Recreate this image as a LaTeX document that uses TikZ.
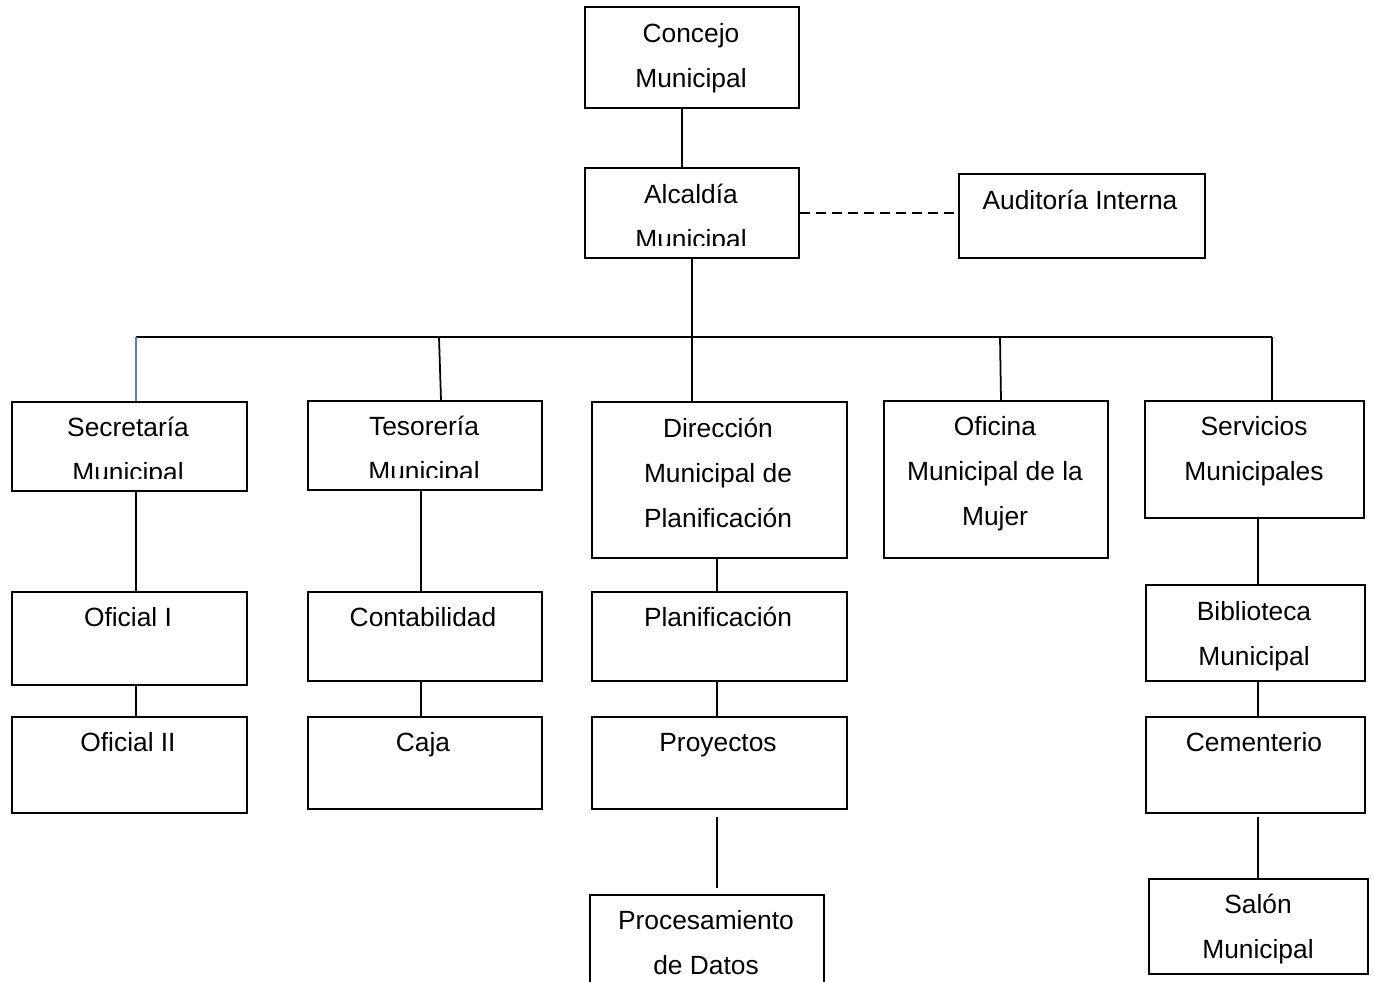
\documentclass[tikz,border=0pt]{standalone}
\usepackage{fontspec}
\setmainfont{Liberation Sans}
\usepackage{tikz}
\definecolor{wordblue}{RGB}{79,129,189}

\tikzset{
  box/.style={draw, line width=1pt, inner sep=0pt, anchor=north west},
  lbl/.style={font=\fontsize{15}{25.6}\selectfont, text width=5cm, align=flush center, inner sep=0pt, anchor=base},
  link/.style={line width=1pt}
}

\begin{document}
\begin{tikzpicture}[x=0.02cm, y=-0.02cm]
    \useasboundingbox (0,0) rectangle (1374,982);

    % top
    \node[box, minimum width=4.28cm, minimum height=2.02cm] (concejo) at (584,6) {};
    \node[lbl] (concejo-t) at (691,43) {Concejo\\Municipal};
    \node[box, minimum width=4.28cm, minimum height=1.8cm] (alcaldia) at (584,167) {};
    \begin{scope}
        \clip (584,167) rectangle (798,246);
        \node[lbl] (alcaldia-t) at (691,204) {Alcaldía\\Municipal};
    \end{scope}
    \node[box, minimum width=4.92cm, minimum height=1.68cm] (auditoria) at (958,173) {};
    \node[lbl] (auditoria-t) at (1080,210) {Auditoría Interna};

    % second row
    \node[box, minimum width=4.7cm, minimum height=1.78cm] (secretaria) at (11,401) {};
    \begin{scope}
        \clip (11,401) rectangle (246,479);
        \node[lbl] (secretaria-t) at (128,437) {Secretaría\\Municipal};
    \end{scope}
    \node[box, minimum width=4.68cm, minimum height=1.78cm] (tesoreria) at (307,400) {};
    \begin{scope}
        \clip (307,400) rectangle (541,478);
        \node[lbl] (tesoreria-t) at (424,436) {Tesorería\\Municipal};
    \end{scope}
    \node[box, minimum width=5.1cm, minimum height=3.12cm] (direccion) at (591,401) {};
    \node[lbl] (direccion-t) at (718,438) {Dirección\\Municipal de\\Planificación};
    \node[box, minimum width=4.48cm, minimum height=3.14cm] (mujer) at (883,400) {};
    \node[lbl] (mujer-t) at (995,436) {Oficina\\Municipal de la\\Mujer};
    \node[box, minimum width=4.38cm, minimum height=2.34cm] (servicios) at (1144,400) {};
    \node[lbl] (servicios-t) at (1254,436) {Servicios\\Municipales};

    % lower rows
    \node[box, minimum width=4.7cm, minimum height=1.86cm] (oficial1) at (11,591) {};
    \node[lbl] (oficial1-t) at (128,627) {Oficial I};
    \node[box, minimum width=4.7cm, minimum height=1.92cm] (oficial2) at (11,716) {};
    \node[lbl] (oficial2-t) at (128,752) {Oficial II};
    \node[box, minimum width=4.68cm, minimum height=1.78cm] (contab) at (307,591) {};
    \node[lbl] (contab-t) at (423,627) {Contabilidad};
    \node[box, minimum width=4.68cm, minimum height=1.84cm] (caja) at (307,716) {};
    \node[lbl] (caja-t) at (423,752) {Caja};
    \node[box, minimum width=5.1cm, minimum height=1.78cm] (planif) at (591,591) {};
    \node[lbl] (planif-t) at (718,627) {Planificación};
    \node[box, minimum width=5.1cm, minimum height=1.84cm] (proyectos) at (591,716) {};
    \node[lbl] (proyectos-t) at (718,752) {Proyectos};
    \node[box, minimum width=4.68cm, minimum height=2.4cm] (procesa) at (589,894) {};
    \node[lbl] (procesa-t) at (706,930) {Procesamiento\\de Datos};
    \node[box, minimum width=4.38cm, minimum height=1.92cm] (biblio) at (1145,584) {};
    \node[lbl] (biblio-t) at (1254,621) {Biblioteca\\Municipal};
    \node[box, minimum width=4.38cm, minimum height=1.92cm] (cement) at (1145,716) {};
    \node[lbl] (cement-t) at (1254,752) {Cementerio};
    \node[box, minimum width=4.38cm, minimum height=1.9cm] (salon) at (1148,878) {};
    \node[lbl] (salon-t) at (1258,914) {Salón\\Municipal};

    % bus and columns
    \coordinate (b1) at (136,337);
    \coordinate (b2) at (439,337);
    \coordinate (b3) at (692,337);
    \coordinate (b4) at (1000,337);
    \coordinate (b5) at (1272,337);
    \coordinate (k2) at (421,0);
    \coordinate (k3) at (717,0);
    \coordinate (k4) at (1258,0);

    % connectors
    \draw[link] ([xshift=-0.2cm]concejo.south) -- ([xshift=-0.2cm]alcaldia.north);
    \draw[link, dash pattern=on 0.2cm off 0.12cm] (alcaldia.east) -- (alcaldia.east -| auditoria.west);
    \draw[link] (alcaldia.south -| b3) -- (b3);
    \draw[link] (b1) -- (b5);
    \draw[link, wordblue] (b1) -- (secretaria.north -| b1);
    \draw[link] (b2) -- ([xshift=0.04cm]tesoreria.north -| b2);
    \draw[link] (b3) -- (direccion.north -| b3);
    \draw[link] (b4) -- ([xshift=0.02cm]mujer.north -| b4);
    \draw[link] (b5) -- (servicios.north -| b5);

    \draw[link] (secretaria.south -| b1) -- (oficial1.north -| b1);
    \draw[link] (oficial1.south -| b1) -- (oficial2.north -| b1);
    \draw[link] (tesoreria.south -| k2) -- (contab.north -| k2);
    \draw[link] (contab.south -| k2) -- (caja.north -| k2);
    \draw[link] (direccion.south -| k3) -- (planif.north -| k3);
    \draw[link] (planif.south -| k3) -- (proyectos.north -| k3);
    \draw[link] ([yshift=-0.14cm]proyectos.south -| k3) -- ([yshift=0.12cm]procesa.north -| k3);
    \draw[link] (servicios.south -| k4) -- (biblio.north -| k4);
    \draw[link] (biblio.south -| k4) -- (cement.north -| k4);
    \draw[link] ([yshift=-0.06cm]cement.south -| k4) -- (salon.north -| k4);
\end{tikzpicture}
\end{document}
